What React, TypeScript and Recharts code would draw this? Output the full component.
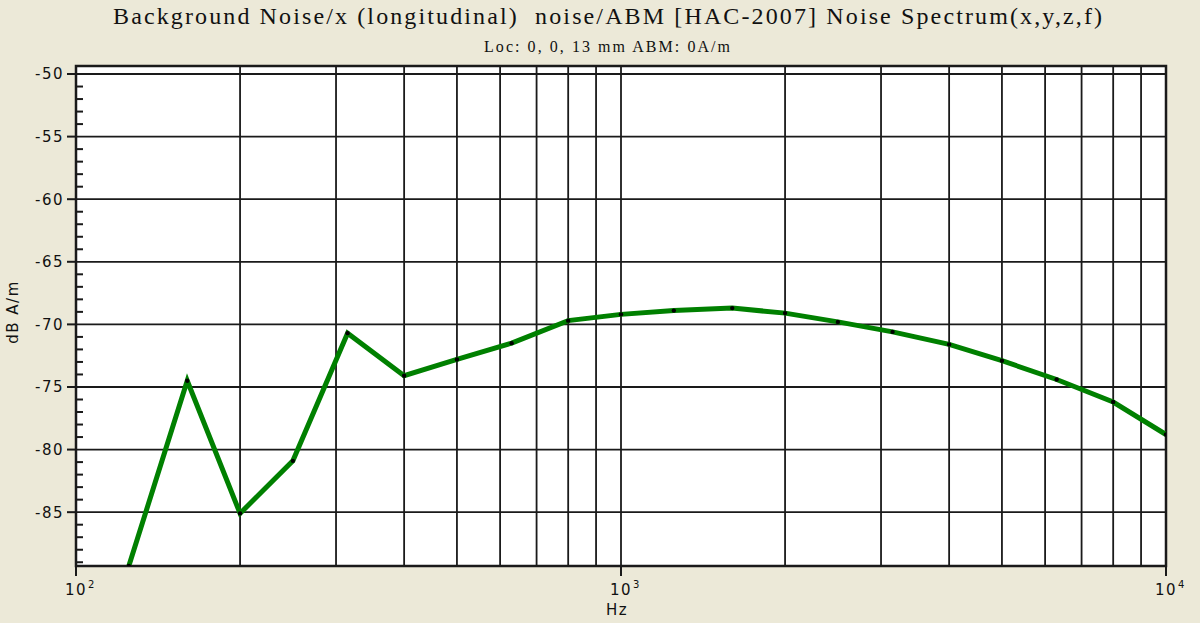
import { CartesianGrid, Line, LineChart, ReferenceArea, XAxis, YAxis } from 'recharts';

const FREQS = [125, 160, 200, 250, 315, 400, 500, 630, 800, 1000, 1250, 1600, 2000, 2500, 3150, 4000, 5000, 6300, 8000, 10000];
const NOISE_DB = [-89.3, -74.5, -85.1, -80.9, -70.7, -74.1, -72.8, -71.5, -69.7, -69.2, -68.9, -68.7, -69.1, -69.8, -70.6, -71.6, -72.9, -74.4, -76.2, -78.8];

const DB_MAJOR = [-85, -80, -75, -70, -65, -60, -55, -50];
const DB_TICKS = [
  -89, -88, -87, -86, -85, -84, -83, -82, -81, -80, -79, -78, -77, -76, -75, -74, -73, -72, -71, -70,
  -69, -68, -67, -66, -65, -64, -63, -62, -61, -60, -59, -58, -57, -56, -55, -54, -53, -52, -51, -50,
];
const GRID_FREQS = [100, 200, 300, 400, 500, 600, 700, 800, 900, 1000, 2000, 3000, 4000, 5000, 6000, 7000, 8000, 9000, 10000];
const DECADES = [100, 1000, 10000];
const DECADE_EXP = ['2', '3', '4'];
const Y_DOMAIN: [number, number] = [-89.3, -49.36];
const X_DOMAIN: [number, number] = [100, 10000];

const TITLE = 'Background Noise/x (longitudinal)  noise/ABM [HAC-2007] Noise Spectrum(x,y,z,f)';
const SUBTITLE = 'Loc: 0, 0, 13 mm ABM: 0A/m';

const data = FREQS.map((f, i) => ({ f, db: NOISE_DB[i] }));

const INK = '#1a1a1a';
const SANS = "'DejaVu Sans', Arial, sans-serif";
const SERIF = "'Liberation Serif', 'Times New Roman', serif";

function YTick({ x, y, payload }: any) {
  const v = payload.value as number;
  if (DB_MAJOR.includes(v)) {
    return (
      <g>
        <line x1={x - 9} x2={x} y1={y} y2={y} stroke={INK} strokeWidth={2} />
        <text x={x - 12} y={y} dy="0.36em" textAnchor="end" fontFamily={SANS} fontSize={15} letterSpacing={1.5} fill="#111">
          {v}
        </text>
      </g>
    );
  }
  return <line x1={x} x2={x + 7} y1={y} y2={y} stroke={INK} strokeWidth={2} />;
}

function XTick({ x, y, payload }: any) {
  const idx = DECADES.indexOf(payload.value);
  return (
    <g>
      <text x={x} y={y + 19} textAnchor="middle" fontFamily={SANS} fontSize={15} letterSpacing={1.5} fill="#111">
        10
      </text>
      <text x={x + 12} y={y + 12} textAnchor="start" fontFamily={SANS} fontSize={10} fill="#111">
        {DECADE_EXP[idx]}
      </text>
    </g>
  );
}

export default function App() {
  return (
    <div style={{ position: 'absolute', left: 0, top: 0, width: 1200, height: 623, background: '#ECE9D8' }}>
      <LineChart width={1200} height={623} data={data} margin={{ top: 66, right: 34, bottom: 0, left: 0 }}>
        <CartesianGrid
          horizontalValues={DB_MAJOR}
          verticalValues={GRID_FREQS}
          stroke={INK}
          strokeWidth={1.8}
          strokeDasharray=""
          fill="#fff"
          fillOpacity={1}
        />
        <XAxis
          dataKey="f"
          type="number"
          scale="log"
          domain={X_DOMAIN}
          allowDataOverflow
          ticks={DECADES}
          interval={0}
          tickSize={10}
          tickMargin={0}
          height={57}
          tickLine={{ stroke: INK, strokeWidth: 2 }}
          axisLine={{ stroke: INK, strokeWidth: 2 }}
          tick={<XTick />}
        />
        <YAxis
          type="number"
          domain={Y_DOMAIN}
          allowDataOverflow
          ticks={DB_TICKS}
          interval={0}
          tickSize={0}
          tickMargin={0}
          tickLine={false}
          width={76}
          axisLine={{ stroke: INK, strokeWidth: 2 }}
          tick={<YTick />}
        />
        <ReferenceArea
          x1={X_DOMAIN[0]}
          x2={X_DOMAIN[1]}
          y1={Y_DOMAIN[0]}
          y2={Y_DOMAIN[1]}
          fill="none"
          fillOpacity={0}
          stroke={INK}
          strokeWidth={2.5}
          ifOverflow="visible"
        />
        <Line
          dataKey="db"
          stroke="#008000"
          strokeWidth={5}
          dot={{ r: 2.2, fill: '#000', stroke: '#000', strokeWidth: 0 }}
          activeDot={false}
          isAnimationActive={false}
        />
      </LineChart>
      <svg width={1200} height={623} style={{ position: 'absolute', left: 0, top: 0, pointerEvents: 'none' }}>
        <text
          x={113}
          y={24}
          fontFamily={SERIF}
          fontSize={24}
          fill="#111"
          textLength={989}
          lengthAdjust="spacing"
          style={{ whiteSpace: 'pre' }}
        >
          {TITLE}
        </text>
        <text
          x={484}
          y={52}
          fontFamily={SERIF}
          fontSize={16}
          fill="#111"
          textLength={246}
          lengthAdjust="spacing"
          style={{ whiteSpace: 'pre' }}
        >
          {SUBTITLE}
        </text>
        <text x={617} y={615} textAnchor="middle" fontFamily={SANS} fontSize={15} letterSpacing={1.5} fill="#111">
          Hz
        </text>
        <text
          x={0}
          y={0}
          transform="translate(18,312) rotate(-90)"
          textAnchor="middle"
          fontFamily={SANS}
          fontSize={15}
          letterSpacing={1.5}
          fill="#111"
        >
          dB A/m
        </text>
      </svg>
    </div>
  );
}
